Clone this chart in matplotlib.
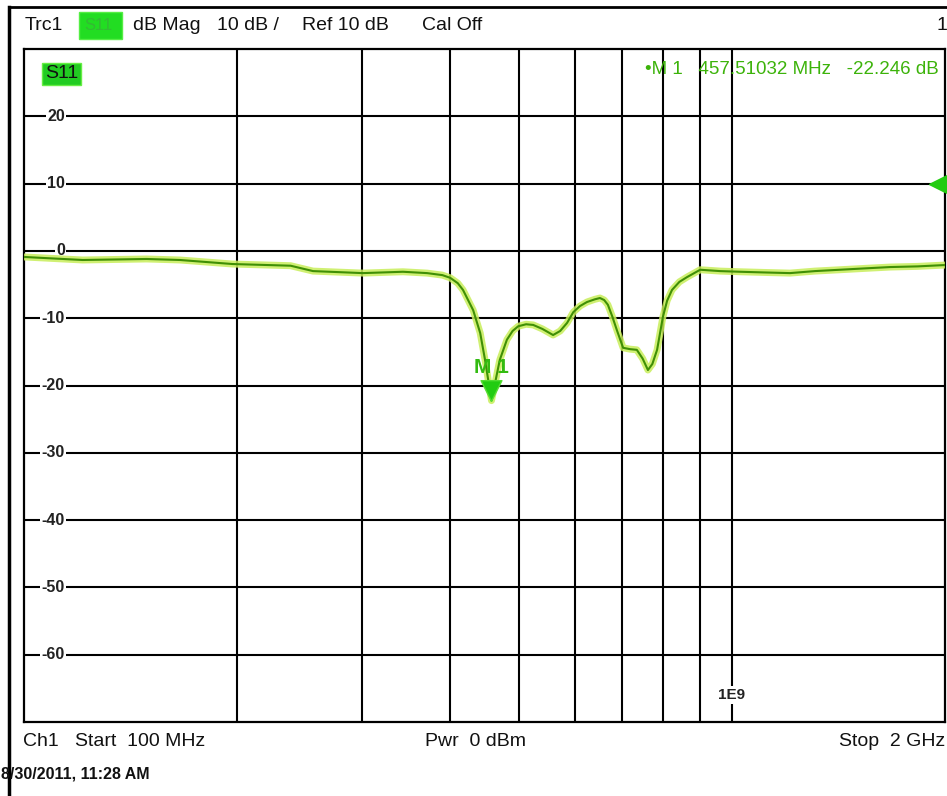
import matplotlib.pyplot as plt
from matplotlib.transforms import blended_transform_factory
from matplotlib.path import Path

plt.rcParams['font.family'] = ['Liberation Sans', 'DejaVu Sans']

# S11 trace (frequency in MHz, magnitude in dB)
freq_mhz = [100, 121, 149, 166, 197, 238, 256, 301, 343, 371, 390, 400, 410, 417, 431, 441,
            448, 457.5, 470, 481, 490, 499, 512, 524, 540, 559, 572, 585, 597, 610, 624, 640,
            651, 660, 668, 678, 688, 702, 718, 734, 748, 761, 772, 784, 799, 810, 823, 843,
            864, 902, 962, 1027, 1110, 1208, 1310, 1421, 1540, 1673, 1830, 2000]
s11_db = [-0.9, -1.35, -1.2, -1.35, -1.95, -2.2, -3.0, -3.3, -3.1, -3.3, -3.6, -4.0, -4.8,
          -5.8, -8.8, -12.2, -16.2, -22.246, -16.2, -13.2, -11.9, -11.2, -10.9, -11.0, -11.6,
          -12.5, -11.9, -10.7, -9.1, -8.2, -7.6, -7.2, -7.0, -7.3, -8.0, -9.8, -11.8, -14.4,
          -14.6, -14.7, -16.0, -17.7, -16.8, -14.7, -9.8, -7.4, -5.8, -4.6, -3.9, -2.8,
          -3.0, -3.1, -3.2, -3.3, -3.0, -2.8, -2.6, -2.4, -2.3, -2.1]

marker_freq = 457.51032
marker_db = -22.246
ref_level = 10

grid_freqs = [200, 300, 400, 500, 600, 700, 800, 900, 1000]
ytick_vals = [20, 10, 0, -10, -20, -30, -40, -50, -60]
ytick_labels = ['20', '10', '0', '-10', '-20', '-30', '-40', '-50', '-60']

W, H = 947, 796
fig = plt.figure(figsize=(W / 100, H / 100), dpi=100)
fig.patch.set_facecolor('white')

ax = fig.add_axes([24 / W, (H - 722) / H, 921 / W, 673 / H])
ax.set_xscale('log')
ax.set_xlim(100, 2000)
ax.set_ylim(-70, 30)
ax.set_xticks([])
ax.set_yticks([])
ax.minorticks_off()
for s in ax.spines.values():
    s.set_linewidth(1.6)
    s.set_color('black')

for f in grid_freqs:
    ax.axvline(f, color='black', lw=1.5, zorder=1)
for v in ytick_vals:
    ax.axhline(v, color='black', lw=1.5, zorder=1)

# y labels sit inside the plot, breaking the grid line
for v, lab in zip(ytick_vals, ytick_labels):
    ax.text(0.0445, v, lab, transform=blended_transform_factory(ax.transAxes, ax.transData),
            ha='right', va='center', fontsize=11.5, fontweight='bold', color='#222222',
            bbox=dict(facecolor='white', edgecolor='none', pad=1.0), zorder=3)

ax.text(1000, -66, '1E9', ha='center', va='center', fontsize=11, fontweight='bold',
        color='#222222', bbox=dict(facecolor='white', edgecolor='none', pad=1.5), zorder=3)

# trace with its glow
ax.plot(freq_mhz, s11_db, color='#c8ee5a', lw=5, alpha=0.85, zorder=4,
        solid_capstyle='round', solid_joinstyle='round')
ax.plot(freq_mhz, s11_db, color='#3f8f05', lw=1.5, zorder=5,
        solid_joinstyle='round')

# marker M1: triangle with its tip on the trace
tip = Path([(0, 0), (-0.5, 1), (0.5, 1), (0, 0)])
ax.plot([marker_freq], [marker_db], marker=tip, markersize=30, color='#22cc11',
        markeredgecolor='#55dd33', zorder=6)
ax.annotate('M 1', (marker_freq, marker_db), xytext=(0, 24), textcoords='offset points',
            ha='center', va='center', fontsize=15, fontweight='bold', color='#33bb11', zorder=6)

# reference level arrow on the right edge
ax.plot([0.992], [ref_level], marker='<', markersize=13, color='#22cc11',
        transform=blended_transform_factory(ax.transAxes, ax.transData), clip_on=False, zorder=6)

# S11 tag in the plot
ax.text(21 / 921, 1 - 25 / 673, 'S11', transform=ax.transAxes, ha='left', va='center',
        fontsize=14, color='#111111',
        bbox=dict(facecolor='#22cc22', edgecolor='#66ee44', pad=2), zorder=6)

# marker readout
ax.text(0.9935, 1 - 21 / 673, '\u2022M 1   457.51032 MHz   -22.246 dB', transform=ax.transAxes,
        ha='right', va='center', fontsize=13.5, color='#3cb30a', zorder=6)

# header
def ftext(x, y, s, **kw):
    fig.text(x / W, 1 - y / H, s, va='center', **kw)

ftext(25, 26, 'Trc1', fontsize=14, color='#111111')
fig.patches.append(plt.Rectangle((79 / W, 1 - 39 / H), 43 / W, 27 / H, transform=fig.transFigure,
                                 facecolor='#22dd22', edgecolor='#55ee44', lw=1))
ftext(84, 26, 'S11', fontsize=12, color='#33bb33')
ftext(133, 26, 'dB Mag', fontsize=14, color='#111111')
ftext(217, 26, '10 dB /', fontsize=14, color='#111111')
ftext(302, 26, 'Ref 10 dB', fontsize=14, color='#111111')
ftext(422, 26, 'Cal Off', fontsize=14, color='#111111')
ftext(936, 26, '1', fontsize=14, color='#111111')

# footer
ftext(23, 742, 'Ch1', fontsize=14, color='#111111')
ftext(75, 742, 'Start  100 MHz', fontsize=14, color='#111111')
ftext(425, 742, 'Pwr  0 dBm', fontsize=14, color='#111111')
fig.text(945 / W, 1 - 742 / H, 'Stop  2 GHz', ha='right', va='center', fontsize=14, color='#111111')
ftext(1, 774, '8/30/2011, 11:28 AM', fontsize=11.5, fontweight='bold', color='#111111')

# outer screen border
fig.add_artist(plt.Line2D([9 / W, 9 / W], [0, 1 - 7 / H], transform=fig.transFigure,
                          color='black', lw=2.5))
fig.add_artist(plt.Line2D([9 / W, 1], [1 - 7 / H, 1 - 7 / H], transform=fig.transFigure,
                          color='black', lw=2))

fig.savefig('out.png', dpi=100)
